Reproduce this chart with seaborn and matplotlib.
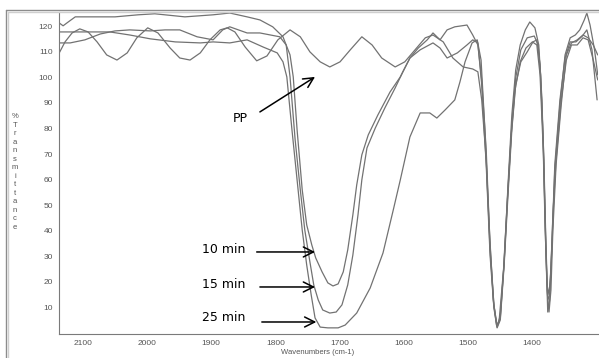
import matplotlib
matplotlib.use("Agg")
import matplotlib.pyplot as plt
from matplotlib.lines import Line2D
from matplotlib.ticker import MultipleLocator
import seaborn as sns

# wavenumber (cm-1) and %T
pp_wn = [2137, 2128, 2117, 2105, 2092, 2078, 2063, 2047, 2031, 2016, 1999, 1983, 1964, 1949,
         1933, 1917, 1902, 1886, 1875, 1863, 1847, 1829, 1813, 1796, 1777, 1761, 1746, 1730,
         1715, 1699, 1683, 1665, 1649, 1634, 1613, 1598, 1582, 1566, 1554, 1538, 1523, 1507,
         1492, 1484, 1478, 1471, 1465, 1459, 1454, 1449, 1443, 1437, 1431, 1425, 1417, 1407,
         1396, 1390, 1386, 1381, 1378, 1375, 1372, 1368, 1364, 1356, 1348, 1340, 1331, 1321,
         1314, 1306, 1298]
pp_t = [109.6, 113.9, 117.4, 119.0, 117.8, 113.9, 108.8, 106.8, 109.6, 115.5, 119.4, 117.4, 111.5, 107.6,
        106.8, 109.6, 114.7, 118.6, 119.4, 117.8, 111.9, 106.5, 108.4, 114.7, 118.6, 115.9, 110.0, 106.1,
        104.1, 106.1, 110.8, 115.9, 112.7, 107.6, 104.1, 106.1, 110.8, 115.5, 116.6, 113.9, 107.6, 104.1,
        103.3, 102.2, 91.2, 67.7, 32.5, 11.0, 2.7, 6.7, 27.8, 56.0, 81.4, 99.8, 110.8, 115.5,
        116.2, 112.7, 101.0, 67.7, 36.4, 12.9, 14.9, 38.4, 65.8, 91.2, 107.6, 113.9, 113.9, 116.2,
        118.6, 110.8, 91.2]

min10_wn = [2137, 2131, 2123, 2112, 2092, 2050, 2014, 1988, 1941, 1897, 1871, 1844, 1824, 1804,
            1788, 1777, 1772, 1766, 1758, 1751, 1743, 1737, 1727, 1718, 1710, 1702, 1694, 1687,
            1679, 1673, 1665, 1655, 1640, 1621, 1605, 1590, 1577, 1563, 1554, 1543, 1532, 1520,
            1509, 1501, 1492, 1484, 1478, 1471, 1465, 1459, 1454, 1449, 1443, 1437, 1431, 1425,
            1418, 1410, 1403, 1395, 1389, 1384, 1381, 1378, 1375, 1372, 1368, 1364, 1356, 1348,
            1340, 1332, 1325, 1318, 1314, 1309, 1302, 1297]
min10_t = [121.3, 120.2, 121.7, 123.7, 123.7, 123.7, 124.5, 124.9, 123.7, 124.5, 125.2, 123.7, 122.5, 119.8,
           115.9, 108.8, 100.2, 79.5, 56.0, 42.3, 34.4, 29.4, 23.9, 19.6, 18.4, 19.2, 23.9, 32.5,
           46.2, 57.9, 69.7, 77.5, 85.3, 94.3, 100.2, 107.6, 111.5, 114.7, 117.4, 114.7, 118.6, 119.8,
           120.2, 120.5, 116.6, 112.7, 99.0, 71.6, 34.4, 11.0, 2.3, 5.9, 27.8, 57.9, 85.3, 102.9,
           112.7, 118.6, 121.7, 119.4, 112.7, 91.2, 63.8, 32.5, 8.2, 12.9, 36.4, 63.8, 89.2, 108.8,
           115.5, 116.6, 118.6, 122.5, 125.2, 120.5, 110.8, 101.0]

min15_wn = [2137, 2120, 2097, 2073, 2050, 2027, 1995, 1972, 1949, 1922, 1897, 1882, 1871, 1844,
            1824, 1793, 1783, 1777, 1769, 1761, 1754, 1746, 1740, 1733, 1726, 1715, 1705, 1696,
            1687, 1679, 1671, 1665, 1657, 1644, 1629, 1613, 1601, 1590, 1574, 1554, 1543, 1532,
            1516, 1501, 1492, 1484, 1478, 1471, 1465, 1459, 1454, 1449, 1443, 1437, 1431, 1425,
            1417, 1407, 1398, 1392, 1387, 1382, 1379, 1376, 1373, 1370, 1367, 1362, 1354, 1346,
            1338, 1329, 1320, 1312, 1304, 1297]
min15_t = [113.5, 113.5, 114.7, 117.0, 118.2, 118.6, 118.2, 118.6, 118.6, 115.9, 114.7, 118.6, 119.8, 117.4,
           117.4, 115.9, 112.7, 100.2, 75.5, 56.0, 40.3, 27.8, 18.8, 12.9, 9.0, 7.8, 8.2, 11.0,
           18.8, 30.5, 46.2, 59.9, 72.4, 80.2, 88.1, 95.9, 102.2, 107.6, 110.8, 113.5, 111.5, 107.6,
           109.6, 112.7, 114.7, 113.5, 97.1, 65.8, 30.5, 9.8, 2.0, 5.1, 26.6, 54.0, 79.5, 97.1,
           106.1, 110.0, 113.9, 114.7, 104.9, 75.5, 44.2, 16.8, 8.2, 16.8, 40.3, 65.8, 89.2, 108.8,
           113.5, 114.7, 116.6, 115.5, 112.7, 108.8]

min25_wn = [2137, 2105, 2058, 2027, 1995, 1956, 1917, 1897, 1871, 1844, 1819, 1797, 1788, 1782,
            1774, 1766, 1758, 1751, 1744, 1738, 1730, 1718, 1702, 1691, 1673, 1652, 1632, 1616,
            1605, 1590, 1574, 1559, 1548, 1535, 1520, 1512, 1504, 1493, 1485, 1479, 1473, 1466,
            1460, 1455, 1451, 1444, 1438, 1432, 1426, 1418, 1409, 1399, 1392, 1387, 1382, 1379,
            1376, 1373, 1370, 1367, 1362, 1354, 1346, 1338, 1329, 1320, 1312, 1304, 1297]
min25_t = [117.8, 117.8, 117.8, 116.6, 115.1, 113.9, 113.5, 113.9, 113.5, 114.7, 111.9, 109.6, 106.1, 100.2,
           79.5, 59.9, 40.3, 26.6, 14.9, 5.9, 2.3, 2.0, 2.0, 3.1, 7.8, 17.6, 31.3, 48.1,
           59.9, 76.7, 86.1, 86.1, 84.1, 87.3, 91.2, 98.2, 106.1, 113.5, 114.7, 106.8, 79.5, 40.3,
           12.9, 3.1, 4.3, 24.7, 52.1, 77.5, 95.1, 106.1, 111.5, 113.9, 112.7, 101.0, 71.6, 40.3,
           18.8, 14.9, 24.7, 46.2, 67.7, 91.2, 106.8, 112.7, 112.7, 115.5, 114.7, 106.8, 99.0]

# labels and arrows: (text, text x, text y, arrow tail x, tail y, tip x, tip y)
labels = [
    ("PP", 1866, 84.1, 1824, 86.5, 1738, 100.2),
    ("10 min", 1914, 32.5, 1829, 31.7, 1738, 31.7),
    ("15 min", 1914, 18.8, 1824, 18.0, 1738, 18.0),
    ("25 min", 1914, 5.9, 1821, 4.3, 1736, 4.3),
]

sns.set_style("white")
plt.rcParams['font.family'] = ['Liberation Sans', 'DejaVu Sans']

fig = plt.figure(figsize=(5.99, 3.58), dpi=100)
ax = fig.add_axes([59 / 599, 1 - 334 / 358, 539 / 599, 322 / 358])

line_color = '#727272'
for wn, t in [(pp_wn, pp_t), (min10_wn, min10_t), (min15_wn, min15_t), (min25_wn, min25_t)]:
    sns.lineplot(x=wn, y=t, ax=ax, color=line_color, lw=0.9, sort=False, estimator=None)

ax.set_xlim(2137.4, 1296.6)
ax.set_ylim(-0.4, 125.6)
ax.set_xlabel('')
ax.set_ylabel('')

ax.set_xticks(range(2100, 1399, -100))
ax.xaxis.set_minor_locator(MultipleLocator(20))
ax.set_yticks(range(10, 121, 10))
ax.yaxis.set_minor_locator(MultipleLocator(2))

for side in ['top', 'right']:
    ax.spines[side].set_visible(False)
for side in ['left', 'bottom']:
    ax.spines[side].set_color('#7a7a7a')
    ax.spines[side].set_linewidth(0.8)

ax.tick_params(which='major', direction='inout', length=4, width=0.7, color='#6a6a6a',
               labelsize=6, labelcolor='#555555', pad=2.5)
ax.tick_params(which='minor', direction='inout', length=2.2, width=0.6, color='#6a6a6a')

for text, tx, ty, ax0, ay0, ax1, ay1 in labels:
    ax.text(tx, ty, text, ha='left', va='center', fontsize=9, color='black', family='DejaVu Sans')
    ax.annotate('', xy=(ax1, ay1), xytext=(ax0, ay0),
                arrowprops=dict(arrowstyle='->,head_length=0.6,head_width=0.3',
                                color='black', lw=1.1, mutation_scale=12,
                                shrinkA=0, shrinkB=0))

# stacked axis title and x title near the bottom edge
fig.text(15 / 599, 1 - 172 / 358, "\n".join("%Transmittance"), ha='center', va='center',
         fontsize=5.5, color='#555555', linespacing=1.3)
fig.text(318 / 599, 1 - 349 / 358, "Wavenumbers (cm-1)", ha='center', va='top',
         fontsize=5.5, color='#555555')

# window border
fig.add_artist(Line2D([6 / 599, 1], [1 - 10 / 358] * 2, color='#8c8c8c', lw=1.0))
fig.add_artist(Line2D([8 / 599, 1], [1 - 12 / 358] * 2, color='#cfcfcf', lw=1.0))
fig.add_artist(Line2D([6 / 599] * 2, [0, 1 - 10 / 358], color='#8c8c8c', lw=1.0))
fig.add_artist(Line2D([8 / 599] * 2, [0, 1 - 12 / 358], color='#cfcfcf', lw=1.0))

fig.savefig('out.png', dpi=100, facecolor='white')
